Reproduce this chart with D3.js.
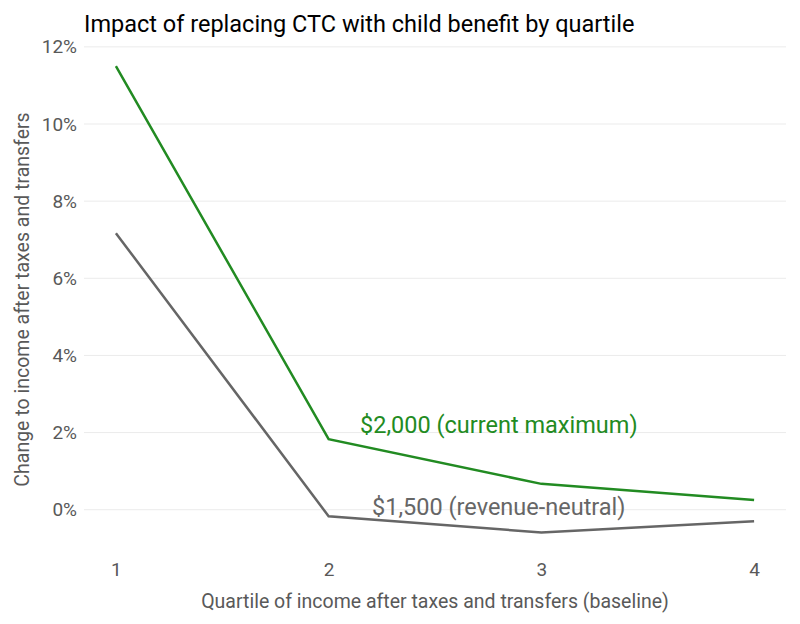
<!DOCTYPE html>
<html>
<head>
<meta charset="utf-8">
<script src="https://cdn.jsdelivr.net/npm/d3@7"></script>
<style>
  body { margin: 0; background: #fff; }
  svg { font-family: Roboto, "Noto Sans", sans-serif; }
</style>
</head>
<body>
<svg></svg>
<script>
const width = 800, height = 624
const quartiles = [1, 2, 3, 4]
const current = [11.5, 1.83, 0.67, 0.25]      // $2,000 (current maximum)
const neutral = [7.17, -0.17, -0.59, -0.30]   // $1,500 (revenue-neutral)
const yTicks = [0, 2, 4, 6, 8, 10, 12]
const seriesNames = ["$2,000 (current maximum)", "$1,500 (revenue-neutral)"]
const labelPos = [[2.8, 2.2], [2.8, 0.08]]
const colors = ["#228B22", "#666666"]

var svg = d3.select("svg")
    .attr("width", width)
    .attr("height", height);

const margin = {left: 84, right: 14, top: 43, bottom: 68}

const x = d3.scaleLinear()
    .domain([0.85, 4.15])
    .range([margin.left, width - margin.right]);

const y = d3.scaleLinear()
    .domain([-1.2, 12.1])
    .range([height - margin.bottom, margin.top]);

// horizontal gridlines
svg.append("g")
    .selectAll("line")
    .data(yTicks)
    .enter()
    .append("line")
    .attr("x1", x.range()[0])
    .attr("x2", x.range()[1])
    .attr("y1", d => y(d))
    .attr("y2", d => y(d))
    .attr("stroke", "#ebebeb")
    .attr("stroke-width", 1);

// y axis
const yAxis = svg.append("g")
    .attr("transform", `translate(${margin.left},0)`)
    .call(d3.axisLeft(y).tickValues(yTicks).tickFormat(d => d + "%").tickSize(0).tickPadding(7));
yAxis.select(".domain").remove();
yAxis.selectAll("text")
    .attr("font-size", 19)
    .attr("fill", "#595959")
    .attr("font-family", "Roboto");

// x axis
const xAxis = svg.append("g")
    .attr("transform", `translate(0,${y.range()[0]})`)
    .call(d3.axisBottom(x).tickValues(quartiles).tickFormat(d3.format("d")).tickSize(0).tickPadding(7));
xAxis.select(".domain").remove();
xAxis.selectAll("text")
    .attr("font-size", 19)
    .attr("fill", "#595959")
    .attr("font-family", "Roboto");

const line = d3.line()
    .x((d, i) => x(quartiles[i]))
    .y(d => y(d));

// lines
svg.selectAll("path.series")
    .data([current, neutral])
    .enter()
    .append("path")
    .attr("class", "series")
    .attr("d", line)
    .attr("fill", "none")
    .attr("stroke", (d, i) => colors[i])
    .attr("stroke-width", 2.5);

// direct labels
svg.selectAll("text.lab")
    .data(seriesNames)
    .enter()
    .append("text")
    .attr("class", "lab")
    .attr("x", (d, i) => x(labelPos[i][0]))
    .attr("y", (d, i) => y(labelPos[i][1]))
    .attr("dy", "0.35em")
    .attr("text-anchor", "middle")
    .attr("font-size", 23.5)
    .attr("fill", (d, i) => colors[i])
    .text(d => d);

// title
svg.append("text")
    .attr("x", margin.left)
    .attr("y", 32)
    .attr("font-size", 23.5)
    .attr("fill", "#000")
    .text("Impact of replacing CTC with child benefit by quartile");

// axis titles
svg.append("text")
    .attr("x", (x.range()[0] + x.range()[1]) / 2)
    .attr("y", 608)
    .attr("text-anchor", "middle")
    .attr("font-size", 19.5)
    .attr("fill", "#595959")
    .text("Quartile of income after taxes and transfers (baseline)");

svg.append("text")
    .attr("transform", `translate(29,${(y.range()[0] + y.range()[1]) / 2}) rotate(-90)`)
    .attr("text-anchor", "middle")
    .attr("font-size", 19.5)
    .attr("fill", "#595959")
    .text("Change to income after taxes and transfers");
</script>
</body>
</html>
